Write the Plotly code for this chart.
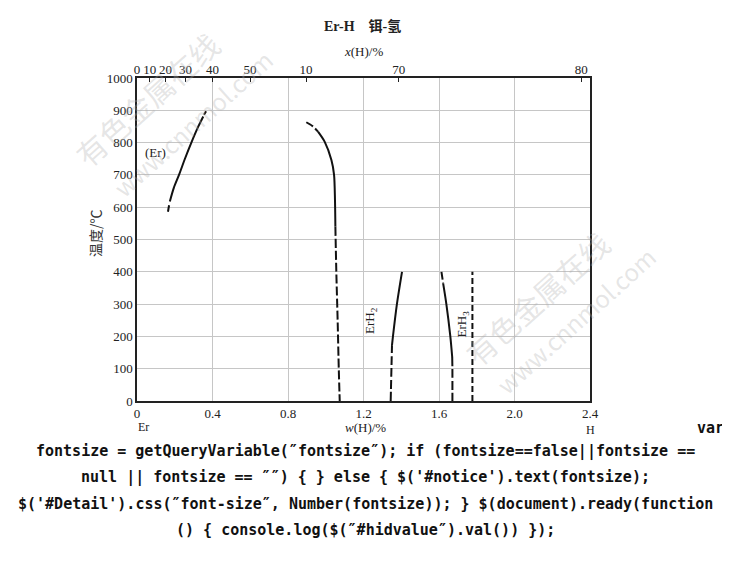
import plotly.graph_objects as go

# ---------------- data ----------------
# bottom axis: mass percent of H
w_ticks = [0, 0.4, 0.8, 1.2, 1.6, 2.0, 2.4]
w_ticktext = ["0", "0.4", "0.8", "1.2", "1.6", "2.0", "2.4"]
# top axis: atomic percent of H (label "10" at 60 as in the source figure)
x_at_pct = [0, 10, 20, 30, 40, 50, 60, 70, 80]
x_at_text = ["0", "10", "20", "30", "40", "50", "10", "70", "80"]
t_ticks = [0, 100, 200, 300, 400, 500, 600, 700, 800, 900, 1000]

# Er solvus
er_a_w = [0.164, 0.170]
er_a_t = [586, 606]
er_b_w = [0.174, 0.195, 0.2225, 0.254, 0.288, 0.325, 0.351]
er_b_t = [618, 660, 700, 750, 800, 850, 881]
er_c_w = [0.355, 0.366]
er_c_t = [886, 897]

# ErH2 left boundary
h2l_a_w = [0.897, 0.930, 0.959]
h2l_a_t = [863, 851, 834]
h2l_b_w = [0.959, 0.994, 1.030, 1.044, 1.049, 1.051]
h2l_b_t = [834, 803, 746, 700, 620, 540]
h2l_c_w = [1.051, 1.056, 1.063, 1.069, 1.074]
h2l_c_t = [540, 400, 250, 100, 0]

# ErH2 right boundary
h2r_a_w = [1.344, 1.348, 1.351]
h2r_a_t = [0, 100, 173]
h2r_b_w = [1.351, 1.356, 1.377, 1.404]
h2r_b_t = [173, 200, 300, 400]

# ErH3 left boundary
h3l_a_w = [1.613, 1.622]
h3l_a_t = [400, 364]
h3l_b_w = [1.622, 1.639, 1.660, 1.670]
h3l_b_t = [364, 300, 200, 136]
h3l_c_w = [1.670, 1.671, 1.671]
h3l_c_t = [136, 100, 0]

# ErH3 line
h3_w = [1.777, 1.777]
h3_t = [0, 400]

M_H, M_ER = 1.008, 167.26


def at_to_w(x):
    return 100.0 * x * M_H / (x * M_H + (100 - x) * M_ER)


x_top_vals = [at_to_w(x) for x in x_at_pct]

SERIF = "Liberation Serif, Times New Roman, Noto Sans CJK SC, serif"
MONO = "DejaVu Sans Mono, monospace"
BLACK = "#111111"

fig = go.Figure()

segments = [
    (er_a_w, er_a_t, "solid"), (er_b_w, er_b_t, "solid"), (er_c_w, er_c_t, "solid"),
    (h2l_a_w, h2l_a_t, "8px,3px"), (h2l_b_w, h2l_b_t, "solid"), (h2l_c_w, h2l_c_t, "9px,3px"),
    (h2r_a_w, h2r_a_t, "9px,3px"), (h2r_b_w, h2r_b_t, "solid"),
    (h3l_a_w, h3l_a_t, "8px,3px"), (h3l_b_w, h3l_b_t, "solid"), (h3l_c_w, h3l_c_t, "9px,3px"),
    (h3_w, h3_t, "6px,3px"),
]
for ws, ts, dash in segments:
    fig.add_trace(go.Scatter(
        x=ws, y=ts, mode="lines",
        line=dict(color=BLACK, width=2, dash=dash, shape="spline", smoothing=0.8),
        hoverinfo="skip", showlegend=False))

# invisible trace anchoring the top axis
fig.add_trace(go.Scatter(x=[0, 2.4], y=[0, 0], xaxis="x2", mode="lines",
                         line=dict(width=0), opacity=0, hoverinfo="skip", showlegend=False))

# page body has an 8px default margin, so the figure is drawn 8px smaller
fig.update_layout(
    width=722, height=571,
    margin=dict(l=129, r=140, t=70, b=178),
    paper_bgcolor="white", plot_bgcolor="white",
    font=dict(family=SERIF, size=13, color="#222"),
    xaxis=dict(range=[0, 2.4], tickvals=w_ticks, ticktext=w_ticktext,
               showgrid=True, gridcolor="#c6c6c6", gridwidth=1,
               showline=True, linecolor="#222", linewidth=1.5, mirror=True,
               ticks="", zeroline=False, tickfont=dict(size=13)),
    xaxis2=dict(range=[0, 2.4], overlaying="x", side="top",
                tickvals=x_top_vals, ticktext=x_at_text,
                showgrid=False, zeroline=False, showline=False,
                ticks="inside", ticklen=4, tickwidth=1, tickcolor="#222",
                tickfont=dict(size=13)),
    yaxis=dict(range=[0, 1000], tickvals=t_ticks,
               showgrid=True, gridcolor="#c6c6c6", gridwidth=1,
               showline=True, linecolor="#222", linewidth=1.5, mirror=True,
               ticks="", zeroline=False, tickfont=dict(size=13)),
)


def px(xp):
    return (xp - 137) / 453


def py(yp):
    return (401 - yp) / 323


ann = [
    dict(text="<b>Er-H    铒-氢</b>", x=362, y=26, size=14),
    dict(text="<i>x</i>(H)/%", x=363, y=52, size=13),
    dict(text="Er", x=143, y=427, size=12),
    dict(text="<i>w</i>(H)/%", x=365, y=427, size=13),
    dict(text="H", x=590, y=430, size=12),
]
for a in ann:
    fig.add_annotation(text=a["text"], xref="paper", yref="paper",
                       x=px(a["x"]), y=py(a["y"]),
                       showarrow=False, xanchor="center", yanchor="middle",
                       font=dict(family=SERIF, size=a["size"], color="#222"))

fig.add_annotation(text="温度/℃", xref="paper", yref="paper",
                   x=px(95), y=py(233), textangle=-90, xanchor="center", yanchor="middle",
                   showarrow=False, font=dict(family="Noto Sans CJK SC", size=14, color="#333"))

# phase labels in data coordinates
fig.add_annotation(text="(Er)", x=0.099, y=768, showarrow=False,
                   xanchor="center", yanchor="middle",
                   font=dict(family=SERIF, size=13, color="#222"))
fig.add_annotation(text="ErH<sub>2</sub>", x=1.238, y=250, showarrow=False, textangle=-90,
                   xanchor="center", yanchor="middle",
                   font=dict(family=SERIF, size=13, color="#222"))
fig.add_annotation(text="ErH<sub>3</sub>", x=1.727, y=240, showarrow=False, textangle=-90,
                   xanchor="center", yanchor="middle",
                   font=dict(family=SERIF, size=13, color="#222"))

# watermarks
for cx, cy, txt, sz in [(147, 99, "有色金属在线", 30), (192, 123, "www.cnnmol.com", 24),
                        (537, 298, "有色金属在线", 30), (575, 320, "www.cnnmol.com", 24)]:
    fig.add_annotation(text=txt, xref="paper", yref="paper",
                       x=px(cx), y=py(cy), textangle=-42,
                       xanchor="center", yanchor="middle", showarrow=False,
                       font=dict(family="Noto Sans CJK SC", size=sz, color="rgba(175,175,175,0.33)"))

# trailing page text
code_lines = [
    "fontsize = getQueryVariable(″fontsize″); if (fontsize==false||fontsize ==",
    "null || fontsize == ″″) { } else { $('#notice').text(fontsize);",
    "$('#Detail').css(″font-size″, Number(fontsize)); } $(document).ready(function",
    "() { console.log($(″#hidvalue″).val()) });",
]
fig.add_annotation(text="<b>var</b>", xref="paper", yref="paper",
                   x=px(710), y=py(428), showarrow=False,
                   xanchor="center", yanchor="middle",
                   font=dict(family=MONO, size=15, color="#111"))
for i, line in enumerate(code_lines):
    fig.add_annotation(text="<b>" + line + "</b>", xref="paper", yref="paper",
                       x=px(365), y=py(451 + 26.3 * i),
                       showarrow=False, xanchor="center", yanchor="middle",
                       font=dict(family=MONO, size=15, color="#111"))

fig.write_html("out.html")
